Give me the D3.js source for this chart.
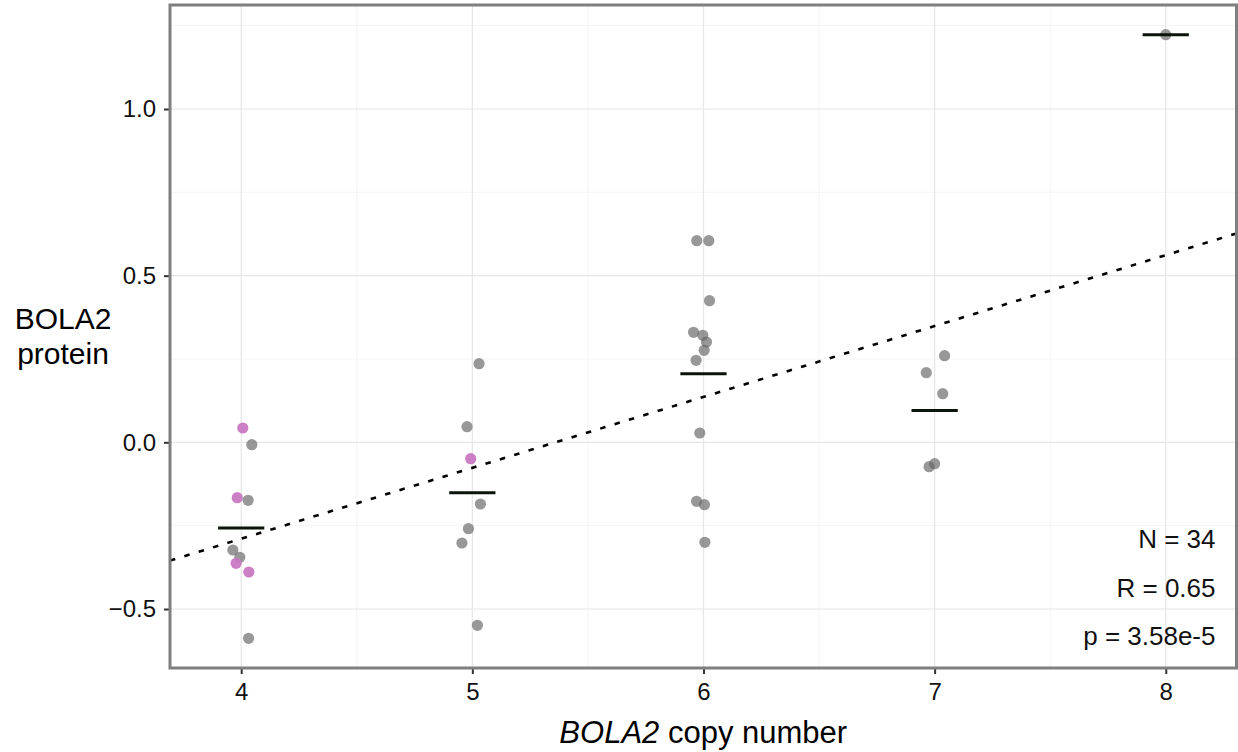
<!DOCTYPE html>
<html>
<head>
<meta charset="utf-8">
<script src="https://cdn.jsdelivr.net/npm/d3@7"></script>
<style>
	body { margin: 0; background: #fff; }
	#canvas { width: 1238px; height: 752px; }
	text { font-family: 'Liberation Sans', Arial, sans-serif; }
</style>
</head>
<body>
<div id="canvas"></div>
<script>
// copy number per sample, protein level, horizontal jitter (copy-number units), highlighted sample
const copyNumbers = [4, 4, 4, 4, 4, 4, 4, 4, 4,
	5, 5, 5, 5, 5, 5, 5,
	6, 6, 6, 6, 6, 6, 6, 6, 6, 6, 6, 6,
	7, 7, 7, 7, 7,
	8];
const proteinValues = [0.043, -0.007, -0.166, -0.174, -0.323, -0.345, -0.363, -0.389, -0.588,
	0.236, 0.047, -0.049, -0.185, -0.259, -0.302, -0.549,
	0.605, 0.605, 0.425, 0.330, 0.321, 0.301, 0.276, 0.246, 0.028, -0.177, -0.187, -0.300,
	0.260, 0.209, 0.146, -0.064, -0.073,
	1.223];
const jitterX = [0.007, 0.046, -0.017, 0.030, -0.036, -0.006, -0.022, 0.033, 0.032,
	0.029, -0.023, -0.007, 0.035, -0.017, -0.045, 0.022,
	-0.029, 0.023, 0.026, -0.043, -0.003, 0.013, 0.003, -0.032, -0.016, -0.030, 0.004, 0.006,
	0.043, -0.036, 0.035, 0.000, -0.024,
	0.000];
const highlighted = [1, 0, 1, 0, 0, 0, 1, 1, 0,
	0, 0, 1, 0, 0, 0, 0,
	0, 0, 0, 0, 0, 0, 0, 0, 0, 0, 0, 0,
	0, 0, 0, 0, 0,
	0];
const xTicks = [4, 5, 6, 7, 8];
const yTicks = [-0.5, 0, 0.5, 1.0];
const statLabels = ['N = 34', 'R = 0.65', 'p = 3.58e-5'];

const width = 1238;
const height = 752;
const margin = { top: 5, right: 1.5, bottom: 84, left: 170 };

const points = copyNumbers.map((cn, i) => ({
	cn,
	value: proteinValues[i],
	jitter: jitterX[i],
	hl: highlighted[i] === 1,
}));

const x = d3.scaleLinear()
	.domain([3.692, 8.306])
	.range([margin.left, width - margin.right]);

const y = d3.scaleLinear()
	.domain([-0.677, 1.312])
	.range([height - margin.bottom, margin.top]);

const svg = d3.select('#canvas').append('svg')
	.attr('width', width)
	.attr('height', height);

// minor + major grid
const minorX = d3.range(3.5, 8.6, 0.5).filter(v => !xTicks.includes(v));
const minorY = d3.range(-0.75, 1.3, 0.25).filter(v => !yTicks.includes(+v.toFixed(2)));
const grid = svg.append('g');
grid.selectAll('.minx').data(minorX.filter(v => v > x.domain()[0] && v < x.domain()[1])).join('line')
	.attr('x1', d => x(d)).attr('x2', d => x(d))
	.attr('y1', y.range()[0]).attr('y2', y.range()[1])
	.attr('stroke', '#f4f4f4').attr('stroke-width', 1);
grid.selectAll('.miny').data(minorY.filter(v => v > y.domain()[0] && v < y.domain()[1])).join('line')
	.attr('y1', d => y(d)).attr('y2', d => y(d))
	.attr('x1', x.range()[0]).attr('x2', x.range()[1])
	.attr('stroke', '#f4f4f4').attr('stroke-width', 1);
grid.selectAll('.majx').data(xTicks).join('line')
	.attr('x1', d => x(d)).attr('x2', d => x(d))
	.attr('y1', y.range()[0]).attr('y2', y.range()[1])
	.attr('stroke', '#e6e6e6').attr('stroke-width', 1.2);
grid.selectAll('.majy').data(yTicks).join('line')
	.attr('y1', d => y(d)).attr('y2', d => y(d))
	.attr('x1', x.range()[0]).attr('x2', x.range()[1])
	.attr('stroke', '#e6e6e6').attr('stroke-width', 1.2);

// regression line (least squares on copy number)
const mx = d3.mean(copyNumbers);
const my = d3.mean(proteinValues);
const slope = d3.sum(copyNumbers, (c, i) => (c - mx) * (proteinValues[i] - my)) /
	d3.sum(copyNumbers, c => (c - mx) ** 2);
const intercept = my - slope * mx;

svg.append('defs').append('clipPath').attr('id', 'clip')
	.append('rect')
	.attr('x', x.range()[0]).attr('y', y.range()[1])
	.attr('width', x.range()[1] - x.range()[0])
	.attr('height', y.range()[0] - y.range()[1]);

const plot = svg.append('g').attr('clip-path', 'url(#clip)');

plot.append('line')
	.attr('x1', x(x.domain()[0])).attr('y1', y(intercept + slope * x.domain()[0]))
	.attr('x2', x(x.domain()[1])).attr('y2', y(intercept + slope * x.domain()[1]))
	.attr('stroke', '#000')
	.attr('stroke-width', 2.6)
	.attr('stroke-dasharray', '5.5,9.5');

// points
plot.selectAll('circle').data(points).join('circle')
	.attr('cx', d => x(d.cn + d.jitter))
	.attr('cy', d => y(d.value))
	.attr('r', 5.6)
	.attr('fill', d => d.hl ? '#c978c2' : '#666')
	.attr('fill-opacity', d => d.hl ? 0.95 : 0.67);

// group means
const means = d3.rollups(points, v => d3.mean(v, d => d.value), d => d.cn);
plot.selectAll('.mean').data(means).join('line')
	.attr('x1', d => x(d[0] - 0.1)).attr('x2', d => x(d[0] + 0.1))
	.attr('y1', d => y(d[1])).attr('y2', d => y(d[1]))
	.attr('stroke', '#0a140a')
	.attr('stroke-width', 3);

// axes
const xAxis = svg.append('g')
	.attr('transform', `translate(0,${y.range()[0]})`)
	.call(d3.axisBottom(x).tickValues(xTicks).tickFormat(d3.format('d'))
		.tickSize(6).tickPadding(9).tickSizeOuter(0));
const yAxis = svg.append('g')
	.attr('transform', `translate(${x.range()[0]},0)`)
	.call(d3.axisLeft(y).tickValues(yTicks).tickSize(6).tickPadding(8)
		.tickFormat(d => d3.format('.1f')(d).replace('-', '\u2212')));

[xAxis, yAxis].forEach(a => {
	a.select('.domain').remove();
	a.selectAll('.tick line').attr('stroke', '#333').attr('stroke-width', 2);
	a.selectAll('.tick text').attr('fill', '#111').style('font-size', '24px');
});

// panel border
svg.append('rect')
	.attr('x', x.range()[0]).attr('y', y.range()[1])
	.attr('width', x.range()[1] - x.range()[0])
	.attr('height', y.range()[0] - y.range()[1])
	.attr('fill', 'none')
	.attr('stroke', '#7f7f7f')
	.attr('stroke-width', 3);

// stats text
svg.append('g').selectAll('text').data(statLabels).join('text')
	.attr('x', x.range()[1] - 21)
	.attr('y', (d, i) => 548 + i * 48.5)
	.attr('text-anchor', 'end')
	.attr('fill', '#111')
	.style('font-size', '26px')
	.text(d => d);

// axis titles
const yTitle = svg.append('text')
	.attr('text-anchor', 'middle')
	.attr('fill', '#000')
	.style('font-size', '30px');
yTitle.append('tspan').attr('x', 63).attr('y', 329).text('BOLA2');
yTitle.append('tspan').attr('x', 63).attr('y', 364).text('protein');

const xTitle = svg.append('text')
	.attr('x', (x.range()[0] + x.range()[1]) / 2)
	.attr('y', 743)
	.attr('text-anchor', 'middle')
	.attr('fill', '#000')
	.style('font-size', '31px');
xTitle.append('tspan').style('font-style', 'italic').text('BOLA2');
xTitle.append('tspan').text(' copy number');
</script>
</body>
</html>
